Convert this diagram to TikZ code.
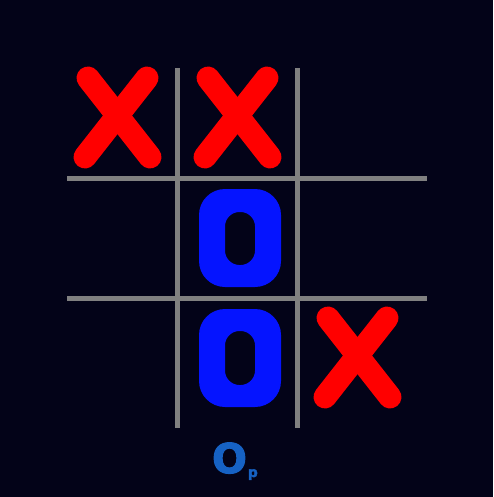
\documentclass[tikz,border=0pt]{standalone}
\usepackage{fontspec}
\setmainfont{DejaVu Sans}
\newfontfamily\heavyfont[FakeBold=2.5]{DejaVu Sans Bold}
\definecolor{bg}{RGB}{3,3,24}
\definecolor{gridgray}{RGB}{128,128,128}
\definecolor{xred}{RGB}{255,0,0}
\definecolor{oblue}{RGB}{5,20,255}
\definecolor{lblue}{RGB}{22,98,196}
\tikzset{
  gridline/.style={draw=gridgray, line width=5pt},
  xmark/.style={draw=xred, line width=23pt, line cap=round},
  omark/.style={fill=oblue, even odd rule},
}
\begin{document}
\begin{tikzpicture}[x=1pt,y=-1pt]
\fill[bg] (0,0) rectangle (493,497);
\useasboundingbox (0,0) rectangle (493,497);
% grid
\coordinate (v1t) at (177.5,68); \coordinate (v1b) at (177.5,428);
\coordinate (v2t) at (297,68); \coordinate (v2b) at (297,428);
\coordinate (h1l) at (67,178.5); \coordinate (h1r) at (427,178.5);
\coordinate (h2l) at (67,298); \coordinate (h2r) at (427,298);
\draw[gridline] (v1t) -- (v1b);
\draw[gridline] (v2t) -- (v2b);
\draw[gridline] (h1l) -- (h1r);
\draw[gridline] (h2l) -- (h2r);
% X marks
\draw[xmark] (88,78) -- (150,157);
\draw[xmark] (147,78) -- (85,157);
\draw[xmark] (208,78) -- (270,157);
\draw[xmark] (267,78) -- (205,157);
\draw[xmark] (328,318) -- (390,397);
\draw[xmark] (387,318) -- (325,397);
% O marks
\path[omark] (199,189) [rounded corners=26pt] rectangle (281,287)
             (225,212) [rounded corners=14.5pt] rectangle (255,265);
\path[omark] (199,309) [rounded corners=26pt] rectangle (281,407)
             (225,331) [rounded corners=14.5pt] rectangle (255,385);
% label
\node[anchor=base, inner sep=0pt, text=lblue, font=\heavyfont\fontsize{41}{41}\selectfont] (lbl) at (229.5,473) {O};
\node[anchor=base west, inner sep=0pt, text=lblue, font=\heavyfont\fontsize{14}{14}\selectfont] (sub) at ([xshift=0.5pt,yshift=-4pt]lbl.base east) {p};
\end{tikzpicture}
\end{document}
